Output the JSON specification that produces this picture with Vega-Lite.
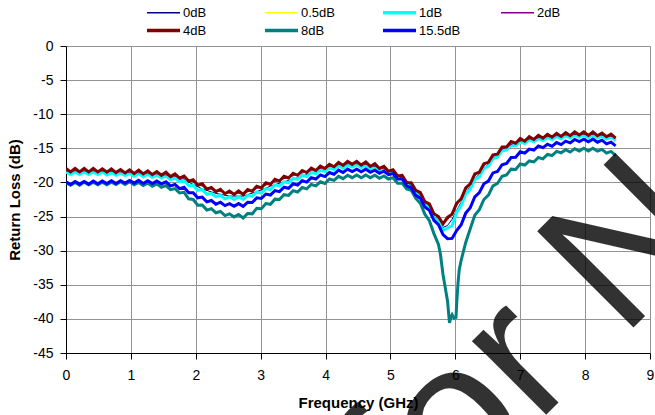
{
  "$schema": "https://vega.github.io/schema/vega-lite/v6.json",
  "width": 584,
  "height": 307,
  "autosize": {"type": "none"},
  "padding": {"left": 66, "top": 46, "right": 5, "bottom": 62},
  "background": "#ffffff",
  "config": {
    "font": "Liberation Sans",
    "view": {"stroke": null},
    "axis": {
      "gridColor": "#939393",
      "gridWidth": 1,
      "gridOpacity": 1,
      "domainColor": "#000000",
      "domainWidth": 1,
      "tickColor": "#000000",
      "tickSize": 6,
      "labelFont": "Liberation Sans",
      "labelFontSize": 14,
      "labelColor": "#000000",
      "titleFont": "Liberation Sans",
      "titleFontSize": 15,
      "titleFontWeight": "bold",
      "titleColor": "#000000"
    },
    "legend": {
      "labelFont": "Liberation Sans",
      "labelFontSize": 13,
      "labelColor": "#000000"
    }
  },
  "datasets": {
    "d0": [
      {"f":0.00,"v":-18.5},{"f":0.21,"v":-18.5},{"f":0.42,"v":-18.5},{"f":0.63,"v":-18.55},{"f":0.84,"v":-18.65},{"f":1.05,"v":-18.75},{"f":1.26,"v":-18.85},{"f":1.47,"v":-19.0},{"f":1.68,"v":-19.35},{"f":1.89,"v":-19.95},{"f":2.10,"v":-20.95},{"f":2.31,"v":-21.6},{"f":2.52,"v":-22.0},{"f":2.73,"v":-22.0},{"f":2.94,"v":-21.35},{"f":3.15,"v":-20.55},{"f":3.36,"v":-19.9},{"f":3.57,"v":-19.3},{"f":3.78,"v":-18.6},{"f":3.99,"v":-18.1},{"f":4.20,"v":-17.7},{"f":4.41,"v":-17.5},{"f":4.62,"v":-17.6},{"f":4.83,"v":-18.0},{"f":5.04,"v":-18.75},{"f":5.25,"v":-20.05},{"f":5.46,"v":-22.0},{"f":5.53,"v":-22.9},{"f":5.60,"v":-23.8},{"f":5.67,"v":-24.9},{"f":5.74,"v":-25.7},{"f":5.81,"v":-26.6},{"f":5.88,"v":-26.3},{"f":5.95,"v":-25.4},{"f":6.02,"v":-24.1},{"f":6.09,"v":-22.9},{"f":6.16,"v":-21.6},{"f":6.30,"v":-19.5},{"f":6.51,"v":-17.25},{"f":6.72,"v":-15.4},{"f":6.93,"v":-14.35},{"f":7.14,"v":-13.85},{"f":7.35,"v":-13.55},{"f":7.56,"v":-13.35},{"f":7.77,"v":-13.2},{"f":7.98,"v":-13.15},{"f":8.19,"v":-13.2},{"f":8.40,"v":-13.45},{"f":8.47,"v":-13.55}
    ],
    "d05": [
      {"f":0.00,"v":-18.65},{"f":0.21,"v":-18.65},{"f":0.42,"v":-18.65},{"f":0.63,"v":-18.7},{"f":0.84,"v":-18.8},{"f":1.05,"v":-18.9},{"f":1.26,"v":-19.0},{"f":1.47,"v":-19.15},{"f":1.68,"v":-19.55},{"f":1.89,"v":-20.25},{"f":2.10,"v":-21.25},{"f":2.31,"v":-21.9},{"f":2.52,"v":-22.3},{"f":2.73,"v":-22.3},{"f":2.94,"v":-21.6},{"f":3.15,"v":-20.85},{"f":3.36,"v":-20.1},{"f":3.57,"v":-19.35},{"f":3.78,"v":-18.75},{"f":3.99,"v":-18.2},{"f":4.20,"v":-17.75},{"f":4.41,"v":-17.55},{"f":4.62,"v":-17.65},{"f":4.83,"v":-18.1},{"f":5.04,"v":-18.75},{"f":5.25,"v":-20.1},{"f":5.46,"v":-22.1},{"f":5.53,"v":-23.0},{"f":5.60,"v":-23.9},{"f":5.67,"v":-25.0},{"f":5.74,"v":-25.9},{"f":5.81,"v":-26.8},{"f":5.88,"v":-26.9},{"f":5.95,"v":-26.1},{"f":6.02,"v":-24.6},{"f":6.09,"v":-23.2},{"f":6.16,"v":-21.9},{"f":6.30,"v":-19.8},{"f":6.51,"v":-17.4},{"f":6.72,"v":-15.55},{"f":6.93,"v":-14.45},{"f":7.14,"v":-13.95},{"f":7.35,"v":-13.65},{"f":7.56,"v":-13.45},{"f":7.77,"v":-13.3},{"f":7.98,"v":-13.25},{"f":8.19,"v":-13.3},{"f":8.40,"v":-13.55},{"f":8.47,"v":-13.65}
    ],
    "d1": [
      {"f":0.00,"v":-18.45},{"f":0.07,"v":-18.85},{"f":0.14,"v":-18.45},{"f":0.21,"v":-18.85},{"f":0.28,"v":-18.45},{"f":0.35,"v":-18.85},{"f":0.42,"v":-18.45},{"f":0.49,"v":-18.85},{"f":0.56,"v":-18.45},{"f":0.63,"v":-18.9},{"f":0.70,"v":-18.55},{"f":0.77,"v":-18.95},{"f":0.84,"v":-18.6},{"f":0.91,"v":-19.0},{"f":0.98,"v":-18.65},{"f":1.05,"v":-19.1},{"f":1.12,"v":-18.7},{"f":1.19,"v":-19.15},{"f":1.26,"v":-18.8},{"f":1.33,"v":-19.25},{"f":1.40,"v":-18.9},{"f":1.47,"v":-19.35},{"f":1.54,"v":-19.05},{"f":1.61,"v":-19.6},{"f":1.68,"v":-19.35},{"f":1.75,"v":-19.9},{"f":1.82,"v":-19.7},{"f":1.89,"v":-20.45},{"f":1.96,"v":-20.4},{"f":2.03,"v":-21.15},{"f":2.10,"v":-21.05},{"f":2.17,"v":-21.75},{"f":2.24,"v":-21.6},{"f":2.31,"v":-22.1},{"f":2.38,"v":-21.85},{"f":2.45,"v":-22.4},{"f":2.52,"v":-22.1},{"f":2.59,"v":-22.5},{"f":2.66,"v":-22.1},{"f":2.73,"v":-22.5},{"f":2.80,"v":-21.9},{"f":2.87,"v":-22.05},{"f":2.94,"v":-21.4},{"f":3.01,"v":-21.55},{"f":3.08,"v":-20.9},{"f":3.15,"v":-21.05},{"f":3.22,"v":-20.35},{"f":3.29,"v":-20.5},{"f":3.36,"v":-19.9},{"f":3.43,"v":-20.05},{"f":3.50,"v":-19.4},{"f":3.57,"v":-19.55},{"f":3.64,"v":-18.95},{"f":3.71,"v":-19.15},{"f":3.78,"v":-18.55},{"f":3.85,"v":-18.75},{"f":3.92,"v":-18.2},{"f":3.99,"v":-18.4},{"f":4.06,"v":-17.85},{"f":4.13,"v":-18.1},{"f":4.20,"v":-17.55},{"f":4.27,"v":-17.9},{"f":4.34,"v":-17.4},{"f":4.41,"v":-17.75},{"f":4.48,"v":-17.4},{"f":4.55,"v":-17.8},{"f":4.62,"v":-17.45},{"f":4.69,"v":-18.0},{"f":4.76,"v":-17.7},{"f":4.83,"v":-18.3},{"f":4.90,"v":-18.05},{"f":4.97,"v":-18.65},{"f":5.04,"v":-18.55},{"f":5.11,"v":-19.35},{"f":5.18,"v":-19.35},{"f":5.25,"v":-20.3},{"f":5.32,"v":-20.5},{"f":5.39,"v":-21.5},{"f":5.46,"v":-21.9},{"f":5.53,"v":-23.2},{"f":5.60,"v":-23.7},{"f":5.67,"v":-25.2},{"f":5.74,"v":-25.7},{"f":5.81,"v":-27.0},{"f":5.88,"v":-26.7},{"f":5.95,"v":-26.3},{"f":6.02,"v":-24.4},{"f":6.09,"v":-23.4},{"f":6.16,"v":-21.7},{"f":6.23,"v":-21.0},{"f":6.30,"v":-19.6},{"f":6.37,"v":-19.15},{"f":6.44,"v":-17.95},{"f":6.51,"v":-17.6},{"f":6.58,"v":-16.5},{"f":6.65,"v":-16.3},{"f":6.72,"v":-15.35},{"f":6.79,"v":-15.25},{"f":6.86,"v":-14.5},{"f":6.93,"v":-14.65},{"f":7.00,"v":-14.0},{"f":7.07,"v":-14.3},{"f":7.14,"v":-13.75},{"f":7.21,"v":-14.05},{"f":7.28,"v":-13.55},{"f":7.35,"v":-13.85},{"f":7.42,"v":-13.4},{"f":7.49,"v":-13.7},{"f":7.56,"v":-13.25},{"f":7.63,"v":-13.6},{"f":7.70,"v":-13.15},{"f":7.77,"v":-13.5},{"f":7.84,"v":-13.05},{"f":7.91,"v":-13.4},{"f":7.98,"v":-13.05},{"f":8.05,"v":-13.45},{"f":8.12,"v":-13.05},{"f":8.19,"v":-13.5},{"f":8.26,"v":-13.2},{"f":8.33,"v":-13.65},{"f":8.40,"v":-13.35},{"f":8.47,"v":-13.85}
    ],
    "d2": [
      {"f":0.00,"v":-18.3},{"f":0.21,"v":-18.3},{"f":0.42,"v":-18.3},{"f":0.63,"v":-18.35},{"f":0.84,"v":-18.45},{"f":1.05,"v":-18.55},{"f":1.26,"v":-18.65},{"f":1.47,"v":-18.8},{"f":1.68,"v":-19.1},{"f":1.89,"v":-19.65},{"f":2.10,"v":-20.55},{"f":2.31,"v":-21.2},{"f":2.52,"v":-21.6},{"f":2.73,"v":-21.6},{"f":2.94,"v":-20.9},{"f":3.15,"v":-20.15},{"f":3.36,"v":-19.45},{"f":3.57,"v":-18.8},{"f":3.78,"v":-18.25},{"f":3.99,"v":-17.8},{"f":4.20,"v":-17.4},{"f":4.41,"v":-17.2},{"f":4.62,"v":-17.35},{"f":4.83,"v":-17.8},{"f":5.04,"v":-18.5},{"f":5.25,"v":-19.85},{"f":5.46,"v":-21.8},{"f":5.53,"v":-22.65},{"f":5.60,"v":-23.5},{"f":5.67,"v":-24.5},{"f":5.74,"v":-25.35},{"f":5.81,"v":-26.0},{"f":5.88,"v":-25.5},{"f":5.95,"v":-24.5},{"f":6.02,"v":-23.4},{"f":6.09,"v":-22.25},{"f":6.16,"v":-21.15},{"f":6.30,"v":-19.1},{"f":6.51,"v":-16.9},{"f":6.72,"v":-15.15},{"f":6.93,"v":-14.1},{"f":7.14,"v":-13.65},{"f":7.35,"v":-13.35},{"f":7.56,"v":-13.15},{"f":7.77,"v":-13.0},{"f":7.98,"v":-12.95},{"f":8.19,"v":-13.0},{"f":8.40,"v":-13.25},{"f":8.47,"v":-13.35}
    ],
    "d4": [
      {"f":0.00,"v":-17.95},{"f":0.07,"v":-18.45},{"f":0.14,"v":-17.95},{"f":0.21,"v":-18.45},{"f":0.28,"v":-17.95},{"f":0.35,"v":-18.45},{"f":0.42,"v":-17.95},{"f":0.49,"v":-18.45},{"f":0.56,"v":-18.0},{"f":0.63,"v":-18.5},{"f":0.70,"v":-18.0},{"f":0.77,"v":-18.55},{"f":0.84,"v":-18.1},{"f":0.91,"v":-18.6},{"f":0.98,"v":-18.15},{"f":1.05,"v":-18.7},{"f":1.12,"v":-18.2},{"f":1.19,"v":-18.75},{"f":1.26,"v":-18.3},{"f":1.33,"v":-18.85},{"f":1.40,"v":-18.4},{"f":1.47,"v":-18.95},{"f":1.54,"v":-18.5},{"f":1.61,"v":-19.15},{"f":1.68,"v":-18.75},{"f":1.75,"v":-19.35},{"f":1.82,"v":-19.05},{"f":1.89,"v":-19.8},{"f":1.96,"v":-19.6},{"f":2.03,"v":-20.4},{"f":2.10,"v":-20.2},{"f":2.17,"v":-21.0},{"f":2.24,"v":-20.75},{"f":2.31,"v":-21.35},{"f":2.38,"v":-21.0},{"f":2.45,"v":-21.65},{"f":2.52,"v":-21.25},{"f":2.59,"v":-21.75},{"f":2.66,"v":-21.25},{"f":2.73,"v":-21.75},{"f":2.80,"v":-21.05},{"f":2.87,"v":-21.3},{"f":2.94,"v":-20.55},{"f":3.01,"v":-20.8},{"f":3.08,"v":-20.05},{"f":3.15,"v":-20.3},{"f":3.22,"v":-19.55},{"f":3.29,"v":-19.8},{"f":3.36,"v":-19.1},{"f":3.43,"v":-19.35},{"f":3.50,"v":-18.65},{"f":3.57,"v":-18.95},{"f":3.64,"v":-18.25},{"f":3.71,"v":-18.55},{"f":3.78,"v":-17.9},{"f":3.85,"v":-18.25},{"f":3.92,"v":-17.6},{"f":3.99,"v":-17.95},{"f":4.06,"v":-17.35},{"f":4.13,"v":-17.7},{"f":4.20,"v":-17.05},{"f":4.27,"v":-17.5},{"f":4.34,"v":-16.9},{"f":4.41,"v":-17.35},{"f":4.48,"v":-16.9},{"f":4.55,"v":-17.45},{"f":4.62,"v":-17.0},{"f":4.69,"v":-17.65},{"f":4.76,"v":-17.25},{"f":4.83,"v":-17.95},{"f":4.90,"v":-17.65},{"f":4.97,"v":-18.35},{"f":5.04,"v":-18.15},{"f":5.11,"v":-19.05},{"f":5.18,"v":-18.95},{"f":5.25,"v":-20.0},{"f":5.32,"v":-20.05},{"f":5.39,"v":-21.15},{"f":5.46,"v":-21.45},{"f":5.53,"v":-22.8},{"f":5.60,"v":-23.15},{"f":5.67,"v":-24.6},{"f":5.74,"v":-25.0},{"f":5.81,"v":-26.1},{"f":5.88,"v":-25.1},{"f":5.95,"v":-24.65},{"f":6.02,"v":-23.05},{"f":6.09,"v":-22.4},{"f":6.16,"v":-20.8},{"f":6.23,"v":-20.2},{"f":6.30,"v":-18.75},{"f":6.37,"v":-18.5},{"f":6.44,"v":-17.25},{"f":6.51,"v":-17.05},{"f":6.58,"v":-15.95},{"f":6.65,"v":-15.85},{"f":6.72,"v":-14.8},{"f":6.79,"v":-14.8},{"f":6.86,"v":-14.0},{"f":6.93,"v":-14.25},{"f":7.00,"v":-13.55},{"f":7.07,"v":-13.95},{"f":7.14,"v":-13.3},{"f":7.21,"v":-13.7},{"f":7.28,"v":-13.1},{"f":7.35,"v":-13.5},{"f":7.42,"v":-12.95},{"f":7.49,"v":-13.35},{"f":7.56,"v":-12.8},{"f":7.63,"v":-13.25},{"f":7.70,"v":-12.7},{"f":7.77,"v":-13.15},{"f":7.84,"v":-12.6},{"f":7.91,"v":-13.05},{"f":7.98,"v":-12.6},{"f":8.05,"v":-13.1},{"f":8.12,"v":-12.6},{"f":8.19,"v":-13.15},{"f":8.26,"v":-12.75},{"f":8.33,"v":-13.3},{"f":8.40,"v":-12.9},{"f":8.47,"v":-13.5}
    ],
    "d8": [
      {"f":0.00,"v":-20.0},{"f":0.07,"v":-20.4},{"f":0.14,"v":-20.0},{"f":0.21,"v":-20.4},{"f":0.28,"v":-19.95},{"f":0.35,"v":-20.35},{"f":0.42,"v":-19.95},{"f":0.49,"v":-20.35},{"f":0.56,"v":-19.95},{"f":0.63,"v":-20.35},{"f":0.70,"v":-19.95},{"f":0.77,"v":-20.3},{"f":0.84,"v":-19.9},{"f":0.91,"v":-20.3},{"f":0.98,"v":-19.9},{"f":1.05,"v":-20.35},{"f":1.12,"v":-20.0},{"f":1.19,"v":-20.45},{"f":1.26,"v":-20.1},{"f":1.33,"v":-20.55},{"f":1.40,"v":-20.2},{"f":1.47,"v":-20.7},{"f":1.54,"v":-20.45},{"f":1.61,"v":-21.05},{"f":1.68,"v":-20.9},{"f":1.75,"v":-21.55},{"f":1.82,"v":-21.45},{"f":1.89,"v":-22.4},{"f":1.96,"v":-22.5},{"f":2.03,"v":-23.35},{"f":2.10,"v":-23.3},{"f":2.17,"v":-24.05},{"f":2.24,"v":-23.85},{"f":2.31,"v":-24.45},{"f":2.38,"v":-24.25},{"f":2.45,"v":-24.85},{"f":2.52,"v":-24.6},{"f":2.59,"v":-25.05},{"f":2.66,"v":-24.7},{"f":2.73,"v":-25.2},{"f":2.80,"v":-24.55},{"f":2.87,"v":-24.6},{"f":2.94,"v":-23.8},{"f":3.01,"v":-23.85},{"f":3.08,"v":-23.1},{"f":3.15,"v":-23.2},{"f":3.22,"v":-22.45},{"f":3.29,"v":-22.5},{"f":3.36,"v":-21.8},{"f":3.43,"v":-21.9},{"f":3.50,"v":-21.2},{"f":3.57,"v":-21.4},{"f":3.64,"v":-20.75},{"f":3.71,"v":-20.95},{"f":3.78,"v":-20.3},{"f":3.85,"v":-20.5},{"f":3.92,"v":-19.9},{"f":3.99,"v":-20.15},{"f":4.06,"v":-19.5},{"f":4.13,"v":-19.7},{"f":4.20,"v":-19.1},{"f":4.27,"v":-19.45},{"f":4.34,"v":-18.95},{"f":4.41,"v":-19.3},{"f":4.48,"v":-18.9},{"f":4.55,"v":-19.3},{"f":4.62,"v":-18.9},{"f":4.69,"v":-19.3},{"f":4.76,"v":-18.95},{"f":4.83,"v":-19.4},{"f":4.90,"v":-19.05},{"f":4.97,"v":-19.5},{"f":5.04,"v":-19.3},{"f":5.11,"v":-20.1},{"f":5.18,"v":-20.1},{"f":5.25,"v":-20.95},{"f":5.32,"v":-21.15},{"f":5.39,"v":-22.35},{"f":5.46,"v":-23.05},{"f":5.53,"v":-24.65},{"f":5.60,"v":-25.6},{"f":5.67,"v":-27.5},{"f":5.74,"v":-29.1},{"f":5.77,"v":-30.5},{"f":5.81,"v":-33.5},{"f":5.88,"v":-37.4},{"f":5.91,"v":-40.6},{"f":5.93,"v":-39.8},{"f":5.95,"v":-39.4},{"f":5.98,"v":-39.9},{"f":6.01,"v":-39.8},{"f":6.02,"v":-37.9},{"f":6.04,"v":-34.9},{"f":6.06,"v":-32.8},{"f":6.09,"v":-31.4},{"f":6.16,"v":-28.8},{"f":6.23,"v":-26.8},{"f":6.30,"v":-24.8},{"f":6.37,"v":-24.0},{"f":6.44,"v":-22.5},{"f":6.51,"v":-21.85},{"f":6.58,"v":-20.5},{"f":6.65,"v":-20.15},{"f":6.72,"v":-19.1},{"f":6.79,"v":-18.9},{"f":6.86,"v":-18.05},{"f":6.93,"v":-18.1},{"f":7.00,"v":-17.3},{"f":7.07,"v":-17.45},{"f":7.14,"v":-16.85},{"f":7.21,"v":-17.0},{"f":7.28,"v":-16.35},{"f":7.35,"v":-16.55},{"f":7.42,"v":-15.9},{"f":7.49,"v":-16.05},{"f":7.56,"v":-15.45},{"f":7.63,"v":-15.65},{"f":7.70,"v":-15.2},{"f":7.77,"v":-15.55},{"f":7.84,"v":-15.05},{"f":7.91,"v":-15.4},{"f":7.98,"v":-15.0},{"f":8.05,"v":-15.4},{"f":8.12,"v":-15.0},{"f":8.19,"v":-15.4},{"f":8.26,"v":-15.15},{"f":8.33,"v":-15.7},{"f":8.40,"v":-15.45},{"f":8.47,"v":-16.05}
    ],
    "d155": [
      {"f":0.00,"v":-19.9},{"f":0.07,"v":-20.3},{"f":0.14,"v":-19.85},{"f":0.21,"v":-20.25},{"f":0.28,"v":-19.85},{"f":0.35,"v":-20.25},{"f":0.42,"v":-19.8},{"f":0.49,"v":-20.2},{"f":0.56,"v":-19.8},{"f":0.63,"v":-20.15},{"f":0.70,"v":-19.75},{"f":0.77,"v":-20.15},{"f":0.84,"v":-19.75},{"f":0.91,"v":-20.1},{"f":0.98,"v":-19.7},{"f":1.05,"v":-20.1},{"f":1.12,"v":-19.7},{"f":1.19,"v":-20.15},{"f":1.26,"v":-19.75},{"f":1.33,"v":-20.15},{"f":1.40,"v":-19.8},{"f":1.47,"v":-20.2},{"f":1.54,"v":-19.9},{"f":1.61,"v":-20.5},{"f":1.68,"v":-20.3},{"f":1.75,"v":-20.9},{"f":1.82,"v":-20.7},{"f":1.89,"v":-21.5},{"f":1.96,"v":-21.5},{"f":2.03,"v":-22.25},{"f":2.10,"v":-22.15},{"f":2.17,"v":-22.85},{"f":2.24,"v":-22.65},{"f":2.31,"v":-23.2},{"f":2.38,"v":-22.9},{"f":2.45,"v":-23.4},{"f":2.52,"v":-23.1},{"f":2.59,"v":-23.5},{"f":2.66,"v":-23.1},{"f":2.73,"v":-23.5},{"f":2.80,"v":-22.9},{"f":2.87,"v":-22.95},{"f":2.94,"v":-22.25},{"f":3.01,"v":-22.35},{"f":3.08,"v":-21.7},{"f":3.15,"v":-21.85},{"f":3.22,"v":-21.2},{"f":3.29,"v":-21.35},{"f":3.36,"v":-20.7},{"f":3.43,"v":-20.85},{"f":3.50,"v":-20.2},{"f":3.57,"v":-20.4},{"f":3.64,"v":-19.75},{"f":3.71,"v":-19.95},{"f":3.78,"v":-19.3},{"f":3.85,"v":-19.5},{"f":3.92,"v":-18.9},{"f":3.99,"v":-19.15},{"f":4.06,"v":-18.55},{"f":4.13,"v":-18.8},{"f":4.20,"v":-18.2},{"f":4.27,"v":-18.55},{"f":4.34,"v":-18.05},{"f":4.41,"v":-18.4},{"f":4.48,"v":-18.05},{"f":4.55,"v":-18.45},{"f":4.62,"v":-18.05},{"f":4.69,"v":-18.5},{"f":4.76,"v":-18.2},{"f":4.83,"v":-18.65},{"f":4.90,"v":-18.35},{"f":4.97,"v":-18.85},{"f":5.04,"v":-18.7},{"f":5.11,"v":-19.5},{"f":5.18,"v":-19.5},{"f":5.25,"v":-20.5},{"f":5.32,"v":-20.8},{"f":5.39,"v":-21.9},{"f":5.46,"v":-22.3},{"f":5.53,"v":-23.6},{"f":5.60,"v":-24.1},{"f":5.67,"v":-25.55},{"f":5.74,"v":-26.2},{"f":5.81,"v":-27.65},{"f":5.88,"v":-28.25},{"f":5.95,"v":-28.2},{"f":6.02,"v":-27.05},{"f":6.09,"v":-26.2},{"f":6.16,"v":-24.5},{"f":6.23,"v":-23.7},{"f":6.30,"v":-22.1},{"f":6.37,"v":-21.5},{"f":6.44,"v":-20.2},{"f":6.51,"v":-19.8},{"f":6.58,"v":-18.6},{"f":6.65,"v":-18.4},{"f":6.72,"v":-17.4},{"f":6.79,"v":-17.2},{"f":6.86,"v":-16.35},{"f":6.93,"v":-16.3},{"f":7.00,"v":-15.5},{"f":7.07,"v":-15.7},{"f":7.14,"v":-15.1},{"f":7.21,"v":-15.25},{"f":7.28,"v":-14.65},{"f":7.35,"v":-14.9},{"f":7.42,"v":-14.4},{"f":7.49,"v":-14.7},{"f":7.56,"v":-14.15},{"f":7.63,"v":-14.45},{"f":7.70,"v":-13.95},{"f":7.77,"v":-14.2},{"f":7.84,"v":-13.7},{"f":7.91,"v":-14.0},{"f":7.98,"v":-13.65},{"f":8.05,"v":-14.05},{"f":8.12,"v":-13.65},{"f":8.19,"v":-14.1},{"f":8.26,"v":-13.8},{"f":8.33,"v":-14.35},{"f":8.40,"v":-14.1},{"f":8.47,"v":-14.65}
    ],
    "wm": [
      {"f":5.45,"v":-72.6,"t":"for New Designs"}
    ]
  },
  "encoding": {
    "x": {
      "field": "f",
      "type": "quantitative",
      "scale": {"domain": [0, 9], "nice": false, "zero": false},
      "axis": {
        "values": [0, 1, 2, 3, 4, 5, 6, 7, 8, 9],
        "title": "Frequency (GHz)",
        "grid": true,
        "labelPadding": 9,
        "titlePadding": 13,
        "labelFlush": false
      }
    },
    "y": {
      "field": "v",
      "type": "quantitative",
      "scale": {"domain": [-45, 0], "nice": false, "zero": false},
      "axis": {
        "values": [-45, -40, -35, -30, -25, -20, -15, -10, -5, 0],
        "title": "Return Loss (dB)",
        "grid": true,
        "labelPadding": 7,
        "titlePadding": 10,
        "labelFlush": false,
        "labelExpr": "'' + datum.value"
      }
    }
  },
  "layer": [
    {
      "data": {"name": "d0"},
      "mark": {"type": "line", "strokeWidth": 1, "clip": true},
      "encoding": {
        "color": {
          "datum": "0dB",
          "type": "nominal",
          "scale": {
            "domain": ["0dB", "0.5dB", "1dB", "2dB", "4dB", "8dB", "15.5dB"],
            "range": ["#000080", "#FFFF00", "#00FFFF", "#800080", "#800000", "#008080", "#0000FF"]
          },
          "legend": {
            "title": null,
            "orient": "none",
            "legendX": 91,
            "legendY": -40,
            "direction": "horizontal",
            "columns": 4,
            "gridAlign": "all",
            "columnPadding": 33,
            "rowPadding": 3,
            "padding": 0,
            "symbolType": "stroke",
            "symbolSize": 1089,
            "symbolStrokeWidth": 1,
            "labelOffset": 13,
            "labelFontSize": 13,
            "encode": {
              "symbols": {
                "update": {
                  "strokeWidth": {"signal": "indexof(['1dB','4dB','8dB','15.5dB'], datum.value) >= 0 ? 3.5 : 1.3"}
                }
              }
            }
          }
        }
      }
    },
    {
      "data": {"name": "d05"},
      "mark": {"type": "line", "strokeWidth": 1, "clip": true},
      "encoding": {"color": {"datum": "0.5dB", "type": "nominal"}}
    },
    {
      "data": {"name": "d1"},
      "mark": {"type": "line", "strokeWidth": 3, "clip": true},
      "encoding": {"color": {"datum": "1dB", "type": "nominal"}}
    },
    {
      "data": {"name": "d2"},
      "mark": {"type": "line", "strokeWidth": 1, "clip": true},
      "encoding": {"color": {"datum": "2dB", "type": "nominal"}}
    },
    {
      "data": {"name": "d4"},
      "mark": {"type": "line", "strokeWidth": 3, "clip": true},
      "encoding": {"color": {"datum": "4dB", "type": "nominal"}}
    },
    {
      "data": {"name": "d8"},
      "mark": {"type": "line", "strokeWidth": 3, "clip": true},
      "encoding": {"color": {"datum": "8dB", "type": "nominal"}}
    },
    {
      "data": {"name": "d155"},
      "mark": {"type": "line", "strokeWidth": 3, "clip": true},
      "encoding": {"color": {"datum": "15.5dB", "type": "nominal"}}
    },
    {
      "data": {"name": "wm"},
      "mark": {
        "type": "text",
        "align": "left",
        "baseline": "alphabetic",
        "angle": 315,
        "fontSize": 198,
        "font": "Liberation Sans",
        "color": "#000000",
        "opacity": 0.8
      },
      "encoding": {"text": {"field": "t", "type": "nominal"}}
    }
  ]
}
